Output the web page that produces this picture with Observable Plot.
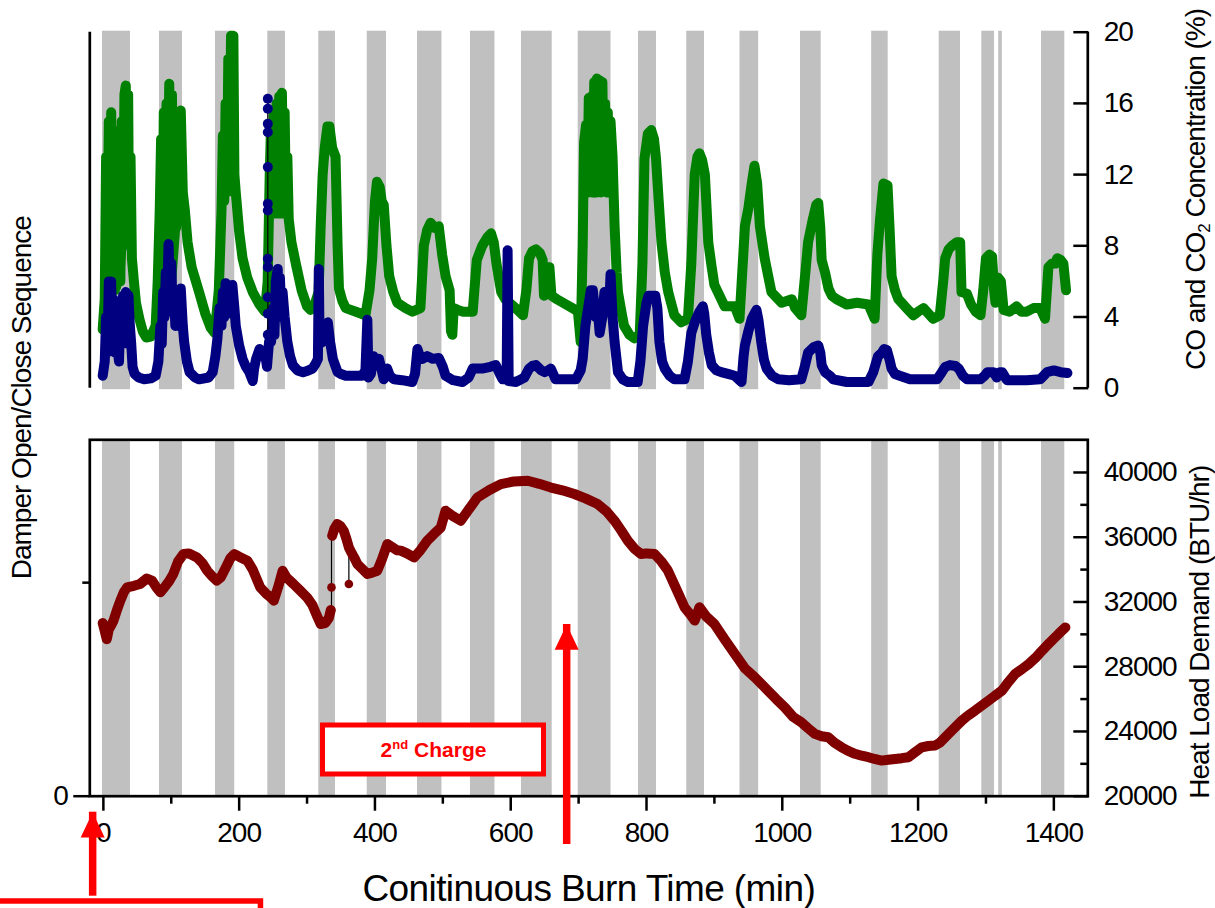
<!DOCTYPE html>
<html><head><meta charset="utf-8">
<script src="https://cdn.jsdelivr.net/npm/d3@7"></script>
<script src="https://cdn.jsdelivr.net/npm/@observablehq/plot@0.6"></script>
<style>
html,body{margin:0;padding:0;background:#fff;}
#chart{position:relative;width:1215px;height:908px;overflow:hidden;}
#chart svg{position:absolute;left:0;top:0;background:transparent !important;}
</style></head>
<body><div id="chart"></div>
<script>
// ---------------- data ----------------
const bandStart = [-1.3, 82.6, 165.1, 242.2, 317.3, 388.6, 462.7, 540.7, 615.8, 699.4, 788.2, 859.3, 937.7, 1026.8, 1131.7, 1231.1, 1293.9, 1318.8, 1381.8];
const bandEnd   = [39.9, 116.5, 193.5, 268.2, 341.9, 417.0, 498.7, 576.8, 661.1, 747.7, 814.7, 885.4, 965.2, 1057.3, 1156.0, 1262.5, 1312.6, 1324.1, 1416.1];

// CO2 concentration (%), [minute, value]
const co2Series = [[-1,3.3],[2,5],[4,13],[6,8],[8,15],[10,6],[11.5,15.5],[13,7],[15,14],[17,5.5],[19,12],[21,7],[23,14.5],[25,6],[27,15],[29,8],[31,16.5],[33,17],[35,9],[36.5,16.5],[38,8],[40,13],[42,7.3],[45,6],[48,4.8],[53,3.9],[58,3.2],[63,2.85],[70,2.9],[77,3.5],[80,6],[83,10],[85,14],[87,8],[89,15.5],[91,9],[93,16],[95,10],[97,17.1],[99,12],[101,16.5],[103,10],[105,15],[107,9],[109,15.5],[111,11],[114,15.6],[117,11],[120,10],[124,8.2],[130,6.8],[141,5.4],[150,4.2],[158,3.4],[164,3.1],[170,5.5],[174,10],[176,14.2],[178,10.5],[180,16],[182,11],[184,18.5],[186,12],[188,19.8],[190,13],[191.5,19.8],[193,12],[195,11],[200,8.8],[205,7.3],[212,6.2],[220,5.4],[230,4.7],[238,4.3],[242,6],[245,12],[247,14.8],[249,10],[251,15.5],[253,10],[255,16],[257,11],[259,16.4],[261,10],[263,16.6],[265,10.5],[267,15.5],[269,10],[271,13],[273,9.5],[277,8.2],[284,6.9],[292,5.5],[300,4.6],[305,4.4],[312,4.8],[317,5.4],[320,9],[323,12],[326,13.5],[330,14.7],[333,14.7],[337,13.5],[342,13.0],[345,8],[347,5.6],[352,4.9],[357,4.5],[372,4.3],[386,4.1],[392,5.5],[396,7.3],[400,10.5],[403,11.6],[407,11.3],[410,10.5],[413,10.3],[417,8],[421,6.3],[427,5.4],[433,4.8],[445,4.5],[455,4.3],[467,4.5],[472,8.0],[477,8.9],[482,9.3],[488,9.0],[494,9.1],[499,7.5],[504,6.3],[510,5.5],[512,3.2],[514,3.0],[516,4.5],[522,4.4],[530,4.3],[544,4.3],[550,7.2],[558,8.0],[566,8.5],[571,8.7],[575,8.2],[579,7.0],[586,5.4],[592,5.0],[598,4.8],[610,4.4],[618,4.1],[623,5.5],[627,7.3],[632,7.7],[637,7.8],[643,7.6],[647,7.2],[649,5.2],[652,6.8],[657,6.8],[660,5.2],[668,5.0],[677,4.8],[691,4.5],[699,4.3],[703,2.6],[706,8],[708,13.8],[711,14.8],[713,11],[715,16.3],[717,11.5],[719,16.4],[721,11],[723,17.2],[725,11],[727,17.4],[729,11.5],[731,17.3],[733,11],[735,17.2],[737,11.5],[739,16],[741,11],[743,15.5],[745,11],[747,15],[750,13],[753,9.1],[756,6.5],[758,5.4],[763,4.3],[767,3.5],[775,3.0],[782,2.8],[790,3.0],[794,7],[797,12.9],[802,14.3],[807,14.5],[811,14],[814,12.9],[818,10.5],[822,8.2],[827,6.5],[832,5.4],[841,4.1],[851,3.7],[861,3.9],[866,7],[871,12],[875,13],[878,13.2],[882,12.8],[886,12],[891,8.2],[896,6.8],[900,5.8],[910,5.0],[915,4.6],[930,4.6],[937,3.9],[941,6.5],[945,9.1],[950,10.1],[955,11.5],[959,12.5],[963,11.5],[967,9.1],[974,7.3],[984,5.4],[999,4.8],[1014,5.0],[1019,4.5],[1028,4.1],[1034,6.5],[1038,8.2],[1045,9.5],[1050,10.3],[1053,10.4],[1056,9],[1058,7.2],[1063,6.5],[1068,5.6],[1073,5.2],[1080,5.0],[1095,4.7],[1110,4.8],[1127,4.7],[1136,3.9],[1140,7.5],[1144,9.5],[1149,11.5],[1155,11.4],[1158,9],[1161,6.3],[1166,5.5],[1171,5.0],[1183,4.5],[1193,4.1],[1200,4.3],[1208,4.5],[1215,4.2],[1222,3.9],[1232,4.1],[1237,6],[1240,7.3],[1245,7.8],[1250,8.0],[1257,8.2],[1262,8.2],[1264,5.4],[1272,5.3],[1278,4.7],[1285,4.3],[1292,4.1],[1296,5.5],[1300,7.3],[1305,7.5],[1309,7.4],[1312,5.5],[1314,4.8],[1318,6.2],[1322,6.0],[1326,4.4],[1335,4.3],[1345,4.6],[1352,4.3],[1360,4.3],[1370,4.5],[1380,4.5],[1387,3.9],[1392,6.8],[1397,7.0],[1402,7.0],[1405,7.3],[1410,7.2],[1414,7.0],[1418,5.5]];

// envelopes of the densely oscillating CO2 bursts, [minute, low, high]
const co2Burst1 = [[3,4,10],[5,5.5,13],[8,5.5,15],[11,5.5,15.5],[14,5.5,14.5],[17,5.5,12.5],[20,5.5,13],[23,5.5,14.5],[26,5.5,15],[29,6,16.3],[32,6.5,17],[35,8,16.5],[38,8,15.5],[41,7.5,12.5]];
const co2Burst2 = [[84,6,13],[87,5,15],[91,4.5,16],[96,4.5,17],[100,4.5,16.5],[104,5,15],[108,6,15.3],[112,8,15.6],[116,10,14.5],[119,10,11.5]];
const co2Burst3 = [[176,10,14],[180,10.5,16],[184,11,18.5],[187,11,19.8],[191,11,19.8],[194,11,13]];
const co2Burst4 = [[246,10,14.5],[250,9.5,15.5],[255,9.5,16],[260,9.5,16.4],[264,9.5,16.6],[268,9.5,15],[272,9.5,12]];
const co2Burst5 = [[710,11,14.8],[714,10.7,16.3],[720,10.7,16.8],[725,10.7,17.4],[731,10.7,17.3],[736,10.8,17.2],[741,11,16],[746,11.5,15.2],[750,12.5,13.5]];

// CO concentration (%), [minute, value]
const coSeries = [[-1,0.7],[2,1.5],[4,4],[6,2],[8,6.0],[10,3],[11.5,6.0],[13,2.5],[15,5],[17,2],[19,4.5],[21,2.2],[23,1.5],[25,4],[27,2.5],[29,5.2],[31,3],[33,5.4],[35,2.5],[37,5.2],[39,3.5],[41,2.5],[43,1.2],[46,0.8],[52,0.6],[60,0.5],[70,0.55],[77,0.7],[81,1.5],[84,3.5],[86,2.5],[88,5.4],[90,4],[92,6.5],[94,5],[96,8.1],[98,5.5],[100,7],[102,4.5],[104,5.4],[106,3.5],[109,4.5],[111,3.5],[114,5.6],[117,3.5],[119,2.6],[123,1.5],[127,0.9],[135,0.6],[141,0.5],[155,0.6],[161,0.9],[165,1.8],[168,2.8],[171,4.5],[174,3.5],[176,5.4],[178,4],[180,5.9],[183,4.5],[186,5.6],[188,4.2],[190,5.8],[193,4.5],[195,3.5],[200,2.4],[205,1.65],[210,1.2],[215,0.9],[220,0.4],[222,1.1],[225,1.65],[230,2.2],[234,1.8],[238,2.0],[241,1.2],[244,2.6],[247,2.6],[250,4.5],[252,3],[254,6],[256.8,6.7],[258,4],[260,6.2],[262,4.5],[264,5.4],[267,4],[271,2.6],[275,1.8],[279,1.3],[286,1.0],[294,0.9],[302,1.0],[308,1.1],[313,1.4],[316,1.65],[317.3,6.7],[318.5,2.5],[323,2.6],[327,3.5],[330.6,3.7],[334,2.6],[338,1.65],[345,0.9],[350,0.8],[357,0.7],[370,0.7],[381,0.7],[386,1.0],[388.8,3.85],[390.5,0.6],[394,0.8],[398,1.8],[402,1.5],[406,1.65],[410,1.0],[413,0.5],[418,1.1],[422,0.7],[428,0.5],[440,0.45],[455,0.35],[459,0.8],[462.6,2.2],[466,1.8],[470,1.65],[477,1.8],[485,1.65],[494,1.7],[500,1.2],[504,0.7],[515,0.45],[529,0.35],[538,0.6],[544,1.1],[558,1.1],[570,1.2],[578,1.3],[584,0.8],[588,0.5],[594,0.5],[595.4,7.75],[597,0.4],[608,0.35],[620,0.6],[627,1.1],[632,1.25],[637,1.3],[645,1.0],[650,0.9],[655,1.0],[659,1.1],[666,0.5],[680,0.5],[696,0.5],[703,1.0],[706,1.65],[710,3.5],[714,4.5],[718,5.5],[721,5.5],[725,4],[728,4.5],[731,3.1],[735,4],[738,5.4],[742,5.2],[745,4.5],[747,6.4],[750,4],[753,2.6],[758,0.9],[765,0.5],[772,0.35],[787,0.35],[791,1.5],[795,3.5],[800,4.8],[803,5.2],[808,5.2],[813,5.2],[816,4.5],[819,2.6],[823,1.5],[827,1.1],[834,0.7],[841,0.5],[856,0.5],[861,1.5],[866,3.1],[872,3.8],[878,4.3],[883,4.6],[885,4.2],[888,3.0],[892,2.0],[896,1.3],[903,1.0],[910,0.9],[920,0.8],[930,0.7],[940,0.35],[943,1.8],[945,2.4],[950,3.2],[955,3.9],[959,4.2],[962,4.4],[965,3.8],[969,2.6],[973,1.6],[977,1.1],[985,0.7],[994,0.5],[1010,0.45],[1028,0.5],[1033,1.2],[1038,2.0],[1046,2.3],[1053,2.4],[1056,2.0],[1058,1.3],[1063,0.9],[1070,0.7],[1075,0.5],[1095,0.35],[1127,0.35],[1134,0.9],[1141,1.8],[1147,2.0],[1150,2.2],[1154,2.15],[1158,1.6],[1161,1.1],[1166,0.8],[1173,0.7],[1188,0.5],[1228,0.5],[1235,0.9],[1240,1.2],[1247,1.3],[1255,1.25],[1260,1.1],[1266,0.7],[1272,0.5],[1292,0.5],[1298,0.7],[1302,0.9],[1311,0.9],[1316,0.6],[1320,0.9],[1324,0.9],[1331,0.45],[1360,0.45],[1380,0.5],[1390,0.9],[1400,1.0],[1410,0.9],[1420,0.85]];
const coBurst1 = [[86,3,5],[90,3.5,6.5],[96,4,8.1],[100,4,7],[105,3.5,5.5],[110,3.5,5],[114,3.5,5.6],[117,3,4]];

// isolated CO readings of the spike near 242 min
const coSpikeTime = 242.2;
const coSpikeValues = [16.26, 15.7, 14.85, 14.38, 12.42, 10.36, 9.98, 7.27, 6.8, 5.11, 4.18, 3.0];

// heat load demand (BTU/hr), [minute, value]
const heatSeriesA = [[-1,30700],[2,30200],[5,29700],[8,30300],[12,30600],[15,30850],[20,31500],[25,32080],[30,32600],[35,32900],[45,33000],[54,33110],[64,33450],[72,33300],[78,32900],[84,32600],[90,32900],[97,33300],[103,33730],[110,34500],[118,34960],[126,35000],[138,34750],[146,34400],[153,33930],[160,33600],[167,33320],[173,33520],[180,34100],[187,34700],[193,34960],[200,34800],[212,34550],[220,34000],[231,32900],[240,32500],[246,32300],[251,32080],[258,33000],[264,33930],[270,33500],[280,33110],[290,32700],[300,32280],[308,31800],[314,31200],[320,30640],[327,30700],[332,31000],[335,31500]];
const heatSeriesB = [[337,36090],[340,36500],[344.5,36820],[349,36700],[354,36400],[358,35900],[361.6,35370],[366,35000],[370,34700],[374,34350],[380,34100],[388.8,33730],[395,33800],[403.5,33930],[410,34600],[418.3,35580],[425,35400],[432,35200],[438,35170],[447,35000],[457.6,34750],[467,35200],[477,35780],[487,36200],[497,36600],[504,37640],[515,37300],[526.5,37020],[538,37700],[551,38460],[568,38900],[585.5,39280],[605,39450],[625,39490],[642,39300],[659.3,39070],[676,38900],[693.7,38670],[710,38400],[728,38050],[741,37600],[752.8,37020],[763,36400],[772.5,35780],[782,35300],[792,34960],[800,35000],[812,34960],[822,34500],[831.6,33930],[845,32700],[856,31670],[865,31200],[871,30850],[878,31670],[888,31100],[900,30640],[915,29700],[930,28790],[945,27900],[959.4,27350],[970,26900],[979,26520],[991,26000],[1003.6,25490],[1016,24900],[1028,24570],[1038,24200],[1048,23850],[1058,23700],[1067.8,23640],[1077,23300],[1087.4,23020],[1097,22800],[1107,22620],[1117,22500],[1126.8,22410],[1136,22300],[1146.4,22200],[1156,22250],[1166,22300],[1176,22350],[1185.8,22410],[1195,22700],[1205.5,23020],[1215,23100],[1225,23130],[1232,23300],[1240,23640],[1252,24150],[1264.5,24670],[1274,25000],[1284,25290],[1294,25600],[1304,25910],[1313,26200],[1323.5,26520],[1333,27050],[1343,27560],[1353,27850],[1363,28170],[1373,28550],[1382.6,28990],[1392,29400],[1402,29820],[1410,30150],[1417,30430]];
const heatJumpTime  = [336, 361.6];
const heatJumpFrom  = [31500, 35100];
const heatJumpTo    = [36090, 33110];
const heatOutlierValue = [32900, 33110];

// axes
const timeDomain = [-20, 1450];
const concDomain = [0, 20];
const heatDomain = [20000, 42019];
const damperDomain = [0, 1.669];
const timeTicks = [0, 200, 400, 600, 800, 1000, 1200, 1400];
const timeMinorTicks = [100, 300, 500, 700, 900, 1100, 1300];
const concTicks = [0, 4, 8, 12, 16, 20];
const heatTicks = [20000, 24000, 28000, 32000, 36000, 40000];
const heatMinorTicks = [22000, 26000, 30000, 34000, 38000];
const damperTicks = [0];
const damperMinorTicks = [1];

// texts
const xTitle = "Conitinuous Burn Time (min)";
const concTitle = "CO and CO2 Concentration (%)";
const heatTitle = "Heat Load Demand (BTU/hr)";
const damperTitle = "Damper Open/Close Sequence";
const chargeLabel = "2nd Charge";

// annotations (minutes, BTU/hr)
const arrowTime = [-15.8, 682.4];
const arrowTail = [14687, 17879];
const arrowTip  = [19012, 30608];
const chargeBoxTime = [323.5, 649.0];
const chargeBoxHeat = [21341, 24368];
const cornerBoxTime = [-300, 232.1];
const cornerBoxHeat = [5000, 13495];

// ---------------- build ----------------
const W = 1215, H = 908;
const FL = 89.3, FR = 1087.3;
const font = '"Liberation Sans", Arial, Helvetica, sans-serif';
const style = {background: "transparent", fontFamily: font, fontSize: "28px", letterSpacing: "-1px", color: "black", overflow: "visible"};
const GREEN = "#008000", NAVY = "#000080", MAROON = "#800000", GRAY = "#c0c0c0", RED = "#ff0000";
const TF = 28; // tick / title font size

const bands = bandStart.map((s, i) => ({start: s, end: bandEnd[i]}));
const toObj = (arr) => arr.map(([t, v]) => ({t, v}));
const toEnv = (list) => list.flatMap((arr, g) => arr.map(([t, lo, hi]) => ({g, t, lo, hi})));
const co2 = toObj(co2Series), co = toObj(coSeries);
const co2Env = toEnv([co2Burst1, co2Burst2, co2Burst3, co2Burst4, co2Burst5]);
const coEnv = toEnv([coBurst1]);
const heatA = toObj(heatSeriesA), heatB = toObj(heatSeriesB);
const spikeDots = coSpikeValues.map(v => ({t: coSpikeTime, v}));
const jumps = heatJumpTime.map((t, i) => ({t, a: heatJumpFrom[i], b: heatJumpTo[i], o: heatOutlierValue[i]}));
const arrows = arrowTime.map((t, i) => ({t, tail: arrowTail[i], tip: arrowTip[i]}));
const chargeBox = [{x1: chargeBoxTime[0], x2: chargeBoxTime[1], y1: chargeBoxHeat[0], y2: chargeBoxHeat[1], label: chargeLabel}];
const cornerBox = [{x1: cornerBoxTime[0], x2: cornerBoxTime[1], y1: cornerBoxHeat[0], y2: cornerBoxHeat[1]}];

const arrowHead = {
  draw(ctx, size) {
    const r = Math.sqrt(size / Math.PI);
    ctx.moveTo(0, 0);
    ctx.lineTo(r, 2.1 * r);
    ctx.lineTo(-r, 2.1 * r);
    ctx.closePath();
  }
};
const thick = {strokeLinejoin: "round", strokeLinecap: "round"};

// top panel: gas concentrations
const topPlot = Plot.plot({
  width: W, height: H,
  marginTop: 31.7, marginBottom: H - 387.7, marginLeft: FL, marginRight: W - FR,
  style,
  x: {domain: timeDomain, axis: null},
  y: {domain: concDomain},
  marks: [
    Plot.rect(bands, {x1: "start", x2: "end", fill: GRAY, insetTop: -1, insetBottom: -1.5}),
    Plot.areaY(co2Env, {x: d => d.t, y1: d => d.lo, y2: d => d.hi, z: d => d.g, fill: GREEN}),
    Plot.line(co2, {x: "t", y: "v", stroke: GREEN, strokeWidth: 10, ...thick}),
    Plot.areaY(coEnv, {x: d => d.t, y1: d => d.lo, y2: d => d.hi, z: d => d.g, fill: NAVY}),
    Plot.line(co, {x: "t", y: "v", stroke: NAVY, strokeWidth: 10, ...thick}),
    Plot.ruleX([coSpikeTime], {y1: d3.min(coSpikeValues), y2: d3.max(coSpikeValues), stroke: "black", strokeWidth: 1.2}),
    Plot.dot(spikeDots, {x: "t", y: "v", r: 5, fill: NAVY}),
    Plot.ruleX(timeDomain, {stroke: "black", strokeWidth: 2.7}),
    Plot.axisY({anchor: "right", ticks: concTicks, tickSize: -15, strokeWidth: 2.5, fill: "none", label: null}),
    Plot.axisY({anchor: "right", ticks: concTicks, tickSize: 0, tickPadding: 16, fontSize: TF, tickFormat: "d", label: null}),
    Plot.text([concTitle], {text: d => d, frameAnchor: "right", dx: 117, dy: -20.7, rotate: -90, textAnchor: "middle", lineAnchor: "bottom", fontSize: TF})
  ]
});

// bottom panel: heat load
const bottomPlot = Plot.plot({
  width: W, height: H,
  marginTop: 439.3, marginBottom: H - 795.7, marginLeft: FL, marginRight: W - FR,
  style,
  x: {domain: timeDomain},
  y: {domain: heatDomain},
  marks: [
    Plot.rect(bands, {x1: "start", x2: "end", fill: GRAY}),
    Plot.ruleX(jumps, {x: "t", y1: "a", y2: "b", stroke: "black", strokeWidth: 1.2}),
    Plot.line(heatA, {x: "t", y: "v", stroke: MAROON, strokeWidth: 10, ...thick}),
    Plot.line(heatB, {x: "t", y: "v", stroke: MAROON, strokeWidth: 10, ...thick}),
    Plot.dot(jumps, {x: "t", y: "o", r: 4.3, fill: MAROON}),
    Plot.frame({stroke: "black", strokeWidth: 2.7}),
    Plot.axisY({anchor: "right", ticks: heatTicks, tickSize: -15, strokeWidth: 2.5, fill: "none", label: null}),
    Plot.axisY({anchor: "right", ticks: heatMinorTicks, tickSize: -8, strokeWidth: 2.5, fill: "none", label: null}),
    Plot.axisY({anchor: "right", ticks: heatTicks, tickSize: 0, tickPadding: 16, fontSize: TF, tickFormat: "d", label: null}),
    Plot.axisX({anchor: "bottom", ticks: timeTicks, tickSize: 15, strokeWidth: 2.5, fill: "none", label: null}),
    Plot.axisX({anchor: "bottom", ticks: timeMinorTicks, tickSize: 8, strokeWidth: 2.5, fill: "none", label: null}),
    Plot.axisX({anchor: "bottom", ticks: timeTicks, tickSize: 0, tickPadding: 26, fontSize: TF, tickFormat: "d", label: null}),
    Plot.text([heatTitle], {text: d => d, frameAnchor: "right", dx: 121, dy: 14.2, rotate: -90, textAnchor: "middle", lineAnchor: "bottom", fontSize: TF}),
    Plot.text([xTitle], {text: d => d, frameAnchor: "bottom", dy: 104.3, textAnchor: "middle", lineAnchor: "bottom", fontSize: 37}),
    // annotations
    Plot.rect(chargeBox, {x1: "x1", x2: "x2", y1: "y1", y2: "y2", fill: "white", stroke: RED, strokeWidth: 5}),
    Plot.text(chargeBox, {x: d => (d.x1 + d.x2) / 2, y: d => (d.y1 + d.y2) / 2, text: "label", fill: RED, fontWeight: "bold", fontSize: 21, lineAnchor: "middle"}),
    Plot.rect(cornerBox, {x1: "x1", x2: "x2", y1: "y1", y2: "y2", fill: "none", stroke: RED, strokeWidth: 5.5}),
    Plot.ruleX(arrows, {x: "t", y1: "tail", y2: "tip", stroke: RED, strokeWidth: 7.5, insetTop: 14}),
    Plot.dot(arrows, {x: "t", y: "tip", symbol: arrowHead, r: 12, fill: RED, stroke: "none"})
  ]
});

// damper axis (left)
const damperPlot = Plot.plot({
  width: W, height: H,
  marginTop: 439.3, marginBottom: H - 795.7, marginLeft: FL, marginRight: W - FR,
  style,
  y: {domain: damperDomain},
  marks: [
    Plot.axisY({anchor: "left", ticks: damperTicks, tickSize: 16, tickPadding: 6, strokeWidth: 2.5, fontSize: TF, tickFormat: "d", label: null}),
    Plot.axisY({anchor: "left", ticks: damperMinorTicks, tickSize: 7, strokeWidth: 2.5, fill: "none", label: null}),
    Plot.text([damperTitle], {text: d => d, frameAnchor: "left", dx: -59.3, dy: -220.3, rotate: -90, textAnchor: "middle", lineAnchor: "bottom", fontSize: TF})
  ]
});

const chart = document.getElementById("chart");
chart.append(topPlot, bottomPlot, damperPlot);

// rich text: subscripts / superscripts
function richText(svg, plain, parts, spacing) {
  d3.select(svg).selectAll("text").filter(function () { return this.textContent === plain; }).each(function () {
    const t = d3.select(this);
    if (spacing != null) t.attr("letter-spacing", spacing);
    if (!parts) return;
    t.text(null);
    for (const p of parts) {
      const s = t.append("tspan").text(p.text);
      if (p.dy) s.attr("dy", p.dy);
      if (p.size) s.attr("font-size", p.size);
    }
  });
}
richText(topPlot, concTitle, [{text: "CO and CO"}, {text: "2", dy: "5px", size: "17px"}, {text: " Concentration (%)", dy: "-5px"}]);
richText(bottomPlot, chargeLabel, [{text: "2"}, {text: "nd", dy: "-8px", size: "13px"}, {text: " Charge", dy: "8px"}], "0px");
richText(bottomPlot, xTitle, null, "-0.6px");
</script>
</body></html>
